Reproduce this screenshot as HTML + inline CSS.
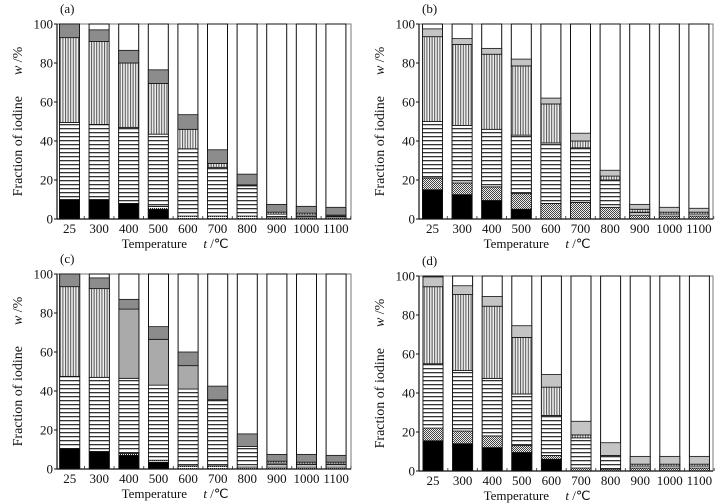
<!DOCTYPE html>
<html><head><meta charset="utf-8"><style>
body{margin:0;background:#fff}
svg{display:block}
text,tspan{font-family:"Liberation Serif",serif;fill:#111}
</style></head><body>
<svg id="chart" width="724" height="504" viewBox="0 0 724 504" xmlns="http://www.w3.org/2000/svg" font-family="Liberation Serif, serif">
<defs>
<pattern id="hl" width="4" height="4" patternUnits="userSpaceOnUse"><rect width="4" height="4" fill="#fff"/><rect y="0" width="4" height="1.3" fill="#333"/></pattern>
<pattern id="vl" width="2.6" height="4" patternUnits="userSpaceOnUse"><rect width="2.6" height="4" fill="#eee"/><rect x="0" width="1" height="4" fill="#555"/></pattern>
<pattern id="dt" width="2" height="2" patternUnits="userSpaceOnUse"><rect width="2" height="2" fill="#fff"/><rect width="1" height="1" fill="#222"/></pattern>
<pattern id="cr" width="2" height="2" patternUnits="userSpaceOnUse"><rect width="2" height="2" fill="#eee"/><rect width="1" height="1" fill="#444"/><rect x="1" y="1" width="1" height="1" fill="#444"/></pattern>
</defs>
</svg>
<script>
const categories=["25","300","400","500","600","700","800","900","1000","1100"];
const yTicks=[0,20,40,60,80,100];
// segment sizes (bottom to top), per panel
const aBlack=[10,10,8,5,0,0,0,0,0,0];
const aDot=[0,0,0,1.5,1.5,1.5,1.5,1,1,1];
const aH=[39.5,38.5,39,37,34.5,25,15.5,1.5,1,0.5];
const aV=[43.5,42.5,33,26,10,2,0.5,1,1,0.5];
const aG=[7,6,6.5,7,7.5,7,5.5,4,3.5,4];
const bBlack=[15,12.5,9.5,5,0,0,0,0,0,0];
const bCross=[6,6,7,8,8,8.5,6,2,1.5,1.5];
const bH=[29,29.5,29.5,30,31,28,14,1.5,1,1];
const bV=[43.5,41.5,38.5,35.5,20,3.5,2,1.5,1,1];
const bG=[4,3,3,3.5,3,4,3,2.5,2.5,2];
const cBlack=[10.5,9,7,3.5,0,0,0,0,0,0];
const cDot=[0,0,1,1,1.5,1.5,1,1,1,1];
const cH=[37,38,38.5,38.5,39.5,34,10.5,2,1.5,1.5];
const cV=[46,45.5,35.5,23.5,12,0,0,1,1,1];
const cG=[6.5,5.5,5,6.5,7,7,6.5,3.5,4,3.5];
const dBlack=[15.5,14,12,9.5,6,0,0,0,0,0];
const dCross=[6.5,6.5,6,3.5,2,1.5,1,1.5,1.5,1.5];
const dH=[33,31,29.5,26.5,20.5,15.5,7,1,1,1];
const dV=[39.5,39,37,29,14.5,1.5,0,1,1,1];
const dG=[5,4.5,5,6,6.5,7,6.5,4,4,4];

const svg=document.getElementById('chart');
const NS='http://www.w3.org/2000/svg';
function mk(tag,attrs,parent){const e=document.createElementNS(NS,tag);for(const k in attrs)e.setAttribute(k,attrs[k]);(parent||svg).appendChild(e);return e;}
function txt(parent,attrs,parts){
  const t=mk('text',Object.assign({'font-family':'Liberation Serif, serif'},attrs),parent);
  parts.forEach(p=>{const s=mk('tspan',p.i?{'font-style':'italic'}:{},t);s.textContent=p.s;});
  return t;
}

function panel(label,ox,oy100,oy0,c0,layers,fills,vFills){
  const g=mk('g',{});
  
  
  const left=ox+57,right=ox+351,pitch=29.6,bw=20;
  const yS=v=>oy0-v*(oy0-oy100)/100;
  const xC=i=>c0+i*pitch;
  const fr=mk('rect',{x:left,y:oy100,width:right-left,height:oy0-oy100,fill:'none',stroke:'#777','stroke-width':1},g);
  
  
  categories.forEach((c,i)=>{
    const x=xC(i)-bw/2;
    const bg=mk('rect',{x:x,y:yS(100),width:bw,height:yS(0)-yS(100),fill:'#fff',stroke:'#111','stroke-width':1},g);
    
    
    let cum=0;
    layers.forEach((arr,li)=>{
      const v=arr[i];
      if(v<=0){return;}
      let f=fills[li];
      if(vFills&&li===3&&vFills[i])f=vFills[i];
      const r=mk('rect',{x:x,y:yS(cum+v),width:bw,height:yS(cum)-yS(cum+v),fill:f,stroke:'#111','stroke-width':0.8},g);
      
      
      cum+=v;
    });
    const t=txt(g,{x:xC(i),y:oy0+14,'font-size':13,'text-anchor':'middle'},[{s:c}]);
    
    
    const tk=mk('line',{x1:xC(i)+pitch/2,x2:xC(i)+pitch/2,y1:oy0,y2:oy0-3,stroke:'#555'},g);
    
    
  });
  mk('line',{x1:left,x2:left,y1:oy100,y2:oy0,stroke:'#111','stroke-width':1.2},g);
  mk('line',{x1:left,x2:right,y1:oy0,y2:oy0,stroke:'#111','stroke-width':1.2},g);
  yTicks.forEach(v=>{
    const t=txt(g,{x:left-4,y:yS(v)+4.5,'font-size':13,'text-anchor':'end'},[{s:String(v)}]);
    
    
    mk('line',{x1:left-3,x2:left,y1:yS(v),y2:yS(v),stroke:'#111'},g);
  });
  const pl=txt(g,{x:ox+60,y:oy100-11,'font-size':13},[{s:'('+label+')'}]);
  
  
  const xt=txt(g,{x:ox+175,y:oy0+29,'font-size':13,'text-anchor':'middle'},[{s:'Temperature\u00a0\u00a0\u00a0\u00a0\u00a0'},{s:'t',i:1},{s:' /\u2103'}]);
  
  
  const cy=(oy0+oy100)/2;
  const yt=txt(g,{x:0,y:0,'font-size':14,'text-anchor':'middle',transform:'translate('+(ox+22)+','+cy+') rotate(-90)'},[{s:'Fraction of iodine\u00a0\u00a0\u00a0\u00a0\u00a0\u00a0'},{s:'w',i:1},{s:' /%'}]);
  
  
}
panel('a',0,24,219,69.5,[aBlack,aDot,aH,aV,aG],['#000','url(#dt)','url(#hl)','url(#vl)','#8c8c8c']);
panel('b',362,24,219,432.5,[bBlack,bCross,bH,bV,bG],['#000','url(#cr)','url(#hl)','url(#vl)','#c4c4c4']);
panel('c',0,274,469,69.7,[cBlack,cDot,cH,cV,cG],['#000','url(#dt)','url(#hl)','url(#vl)','#8c8c8c'],[0,0,'#aaa','#aaa','#aaa',0,0,0,0,0]);
panel('d',362,276,471,433,[dBlack,dCross,dH,dV,dG],['#000','url(#cr)','url(#hl)','url(#vl)','#c4c4c4']);
</script>
</body></html>
